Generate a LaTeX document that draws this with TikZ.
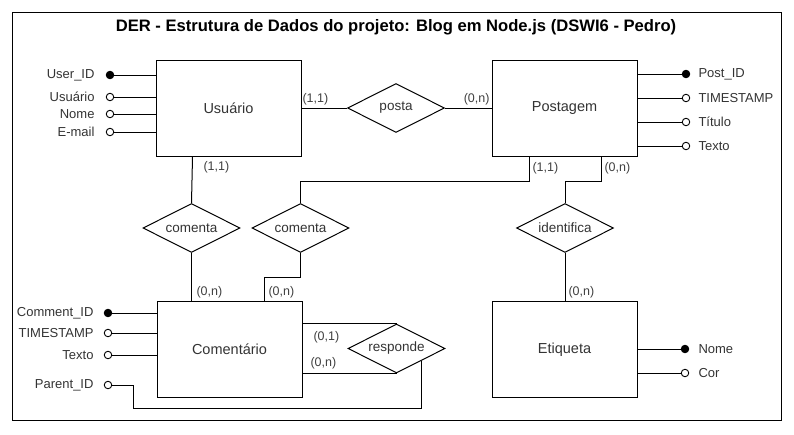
\documentclass[tikz,border=0pt]{standalone}
\usepackage{fontspec}
\setmainfont{Liberation Sans}
\usetikzlibrary{shapes.geometric}
\begin{document}
\begin{tikzpicture}[x=1pt,y=-1pt,line width=1pt,
  entity/.style={draw,rectangle,minimum width=145pt,minimum height=96pt,inner sep=0pt,font=\fontsize{14.5}{16}\selectfont,text=black!80},
  rel/.style={draw,diamond,aspect=2,inner sep=0pt,minimum width=97pt,minimum height=49pt,font=\fontsize{13.5}{15}\selectfont,text=black!80},
  keyattr/.style={circle,draw,fill=black,inner sep=0pt,minimum size=7.5pt,line width=0.9pt},
  attr/.style={circle,draw,fill=white,inner sep=0pt,minimum size=7.5pt,line width=0.9pt},
  lbl/.style={font=\fontsize{13}{15}\selectfont,text=black!80,inner sep=0pt},
  card/.style={font=\fontsize{12.5}{14}\selectfont,text=black!75,inner sep=0pt}]
\useasboundingbox (0,0) rectangle (794,434);
\node[draw,rectangle,line width=1pt,minimum width=769pt,minimum height=408pt,inner sep=0pt] (frame) at (396.5,216) {};
\node[font=\bfseries\fontsize{16.6}{19}\selectfont] (title) at (396,27) {DER - Estrutura de Dados do projeto: Blog em Node.js (DSWI6 - Pedro)};

% entities
\node[entity] (usuario) at (228.5,108.5) {Usuário};
\node[entity] (postagem) at (564.5,108) {Postagem};
\node[entity] (comentario) at (229.5,349.5) {Comentário};
\node[entity] (etiqueta) at (564.5,349.5) {Etiqueta};

% relationships
\node[rel] (posta) at (396,108) {posta};
\node[rel] (comenta1) at (191.5,228) {comenta};
\node[rel] (comenta2) at (300.5,228) {comenta};
\node[rel] (identifica) at (565,228) {identifica};
\node[rel] (responde) at (396.5,348.5) {responde};

% Usuario attributes
\node[keyattr] (uid) at (110,75) {};
\node[attr] (uusr) at (110,97) {};
\node[attr] (unome) at (110,114) {};
\node[attr] (umail) at (110,132) {};
\node[lbl,anchor=east] (luid) at (95,75) {User\_ID};
\node[lbl,anchor=east] (luusr) at (95,97) {Usuário};
\node[lbl,anchor=east] (lunome) at (95,114) {Nome};
\node[lbl,anchor=east] (lumail) at (95,132) {E-mail};
\foreach \a in {uid,uusr,unome,umail} \draw (\a.east) -- (\a -| usuario.west);

% Postagem attributes
\node[keyattr] (pid) at (686,74) {};
\node[attr] (pts) at (686,98) {};
\node[attr] (ptit) at (686,122) {};
\node[attr] (ptxt) at (686,146) {};
\node[lbl,anchor=west] (lpid) at (698,74) {Post\_ID};
\node[lbl,anchor=west] (lpts) at (698,98) {TIMESTAMP};
\node[lbl,anchor=west] (lptit) at (698,122) {Título};
\node[lbl,anchor=west] (lptxt) at (698,146) {Texto};
\foreach \a in {pid,pts,ptit,ptxt} \draw (\a.west) -- (\a -| postagem.east);

% Comentario attributes
\node[keyattr] (cid) at (108,313) {};
\node[attr] (cts) at (108,333) {};
\node[attr] (ctxt) at (108,355) {};
\node[attr] (cpar) at (108,385) {};
\node[lbl,anchor=east] (lcid) at (94,313) {Comment\_ID};
\node[lbl,anchor=east] (lcts) at (94,333) {TIMESTAMP};
\node[lbl,anchor=east] (lctxt) at (94,355) {Texto};
\node[lbl,anchor=east] (lcpar) at (94,385) {Parent\_ID};
\foreach \a in {cid,cts,ctxt} \draw (\a.east) -- (\a -| comentario.west);

% Etiqueta attributes
\node[keyattr] (enome) at (685,349) {};
\node[attr] (ecor) at (685,373) {};
\node[lbl,anchor=west] (lenome) at (698,349) {Nome};
\node[lbl,anchor=west] (lecor) at (698,373) {Cor};
\foreach \a in {enome,ecor} \draw (\a.west) -- (\a -| etiqueta.east);

% connectors
\draw (usuario.east |- posta) -- (posta.west);
\draw (posta.east) -- (postagem.west |- posta);
\node[card,anchor=west] (c1) at (302,99) {(1,1)};
\node[card,anchor=east] (c2) at (490,99) {(0,n)};

\coordinate (u1) at (192.5,157);
\draw (u1) -- (comenta1.north);
\draw (comenta1.south) -- (comenta1.south |- comentario.north);
\node[card,anchor=west] (c3) at (203,167) {(1,1)};
\node[card,anchor=west] (c4) at (196,292) {(0,n)};

\coordinate (p1) at (529,156);
\coordinate (p1b) at (529,181);
\draw (p1) -- (p1b) -- (p1b -| comenta2) -- (comenta2.north);
\coordinate (k1) at (300.5,277);
\coordinate (k2) at (264.5,277);
\draw (comenta2.south) -- (k1) -- (k2) -- (k2 |- comentario.north);
\node[card,anchor=west] (c5) at (532,168) {(1,1)};
\node[card,anchor=west] (c6) at (268,292) {(0,n)};

\coordinate (p2) at (601,156);
\coordinate (p2b) at (601,181);
\draw (p2) -- (p2b) -- (p2b -| identifica) -- (identifica.north);
\draw (identifica.south) -- (identifica.south |- etiqueta.north);
\node[card,anchor=west] (c7) at (604,168) {(0,n)};
\node[card,anchor=west] (c8) at (568,292) {(0,n)};

% responde
\draw (comentario.east |- responde.north) -- (responde.north);
\draw (comentario.east |- responde.south) -- (responde.south);
\node[card,anchor=west] (c9) at (313,337) {(0,1)};
\node[card,anchor=west] (c10) at (310,363) {(0,n)};
\coordinate (r1) at (133,385);
\coordinate (r2) at (133,408);
\coordinate (r3) at (421,408);
\coordinate (r4) at (421,361);
\draw (cpar.east) -- (r1) -- (r2) -- (r3) -- (r4);
\end{tikzpicture}
\end{document}
